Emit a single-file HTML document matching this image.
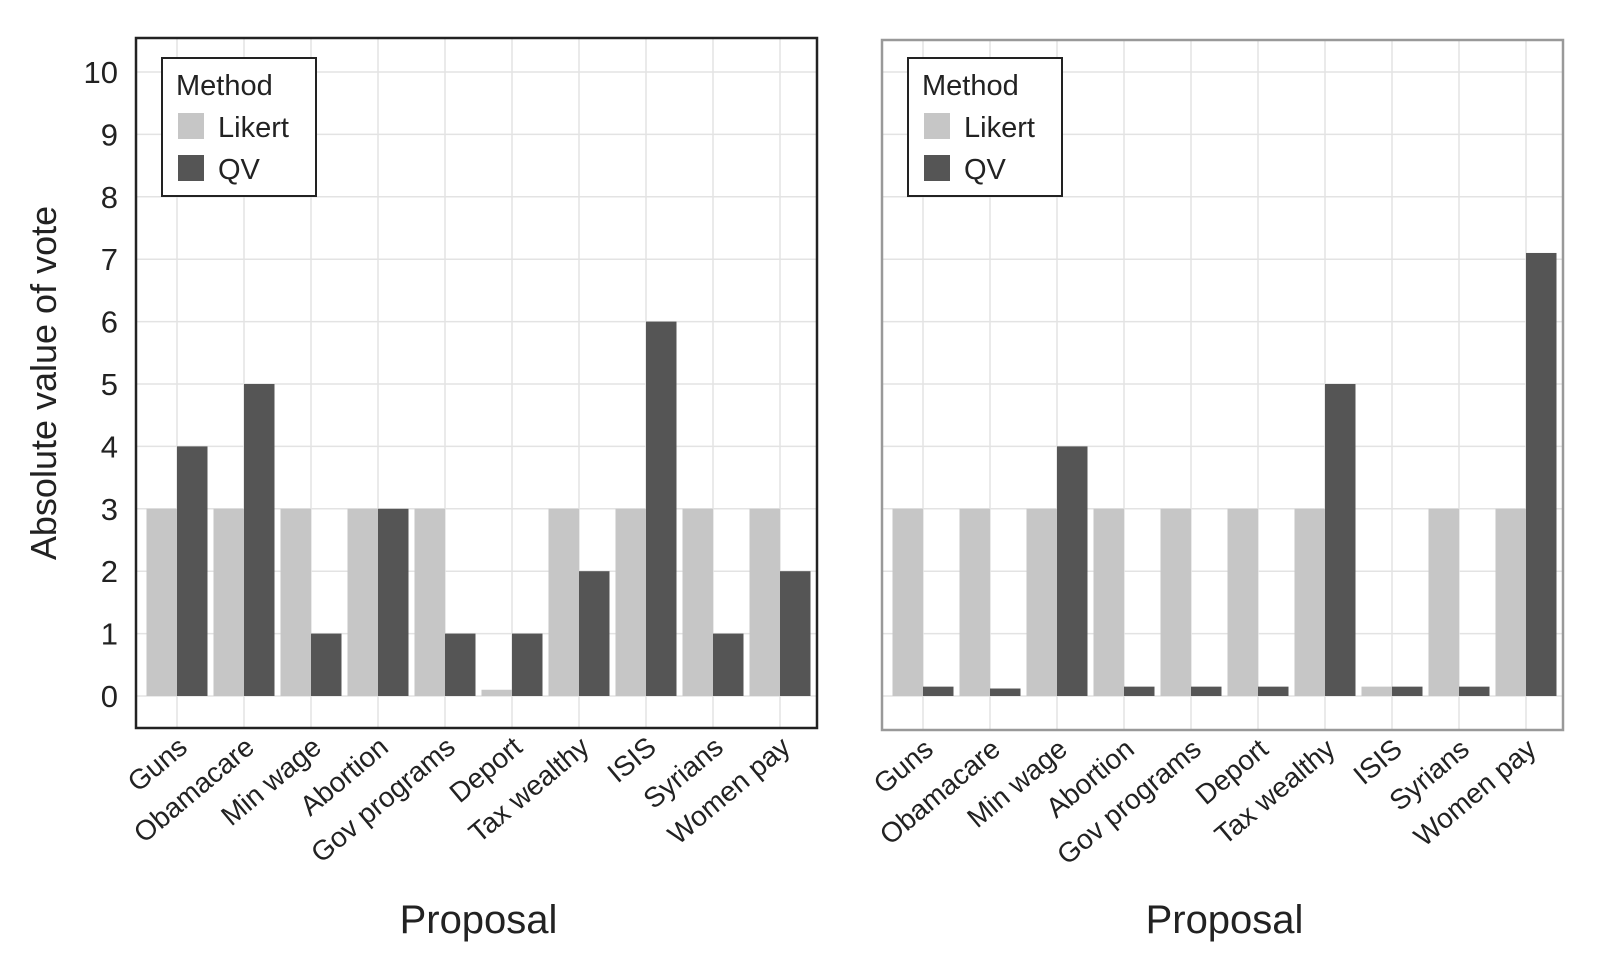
<!DOCTYPE html>
<html><head><meta charset="utf-8"><style>
html,body{margin:0;padding:0;background:#fff}
svg{display:block;font-family:"Liberation Sans",sans-serif}
</style></head><body>
<svg id="chart" width="1614" height="974" viewBox="0 0 1614 974"></svg>
<script>
const categories=["Guns","Obamacare","Min wage","Abortion","Gov programs","Deport","Tax wealthy","ISIS","Syrians","Women pay"];
const leftLikert=[3,3,3,3,3,0.1,3,3,3,3];
const leftQV=[4,5,1,3,1,1,2,6,1,2];
const rightLikert=[3,3,3,3,3,3,3,0.15,3,3];
const rightQV=[0.15,0.12,4,0.15,0.15,0.15,5,0.15,0.15,7.1];
const yTicks=[0,1,2,3,4,5,6,7,8,9,10];

const NS="http://www.w3.org/2000/svg";
const svg=document.getElementById('chart');
function mk(tag,attrs,parent){const e=document.createElementNS(NS,tag);for(const k in attrs)e.setAttribute(k,attrs[k]);(parent||svg).appendChild(e);return e;}
const y0=696,unit=62.4;
function yS(v){return y0-v*unit;}

function panel(px,top,bottom,likert,qv,name,border,showY){
  const g=mk('g',{});
  
  
  const w=681;
  const first=px+41, step=67;
  function xS(i){return first+i*step;}
  yTicks.forEach(t=>{
    const l=mk('line',{x1:px,x2:px+w,y1:yS(t),y2:yS(t),stroke:'#e3e3e3','stroke-width':1.5},g);
    
    
  });
  categories.forEach((c,i)=>{
    const l=mk('line',{x1:xS(i),x2:xS(i),y1:top,y2:bottom,stroke:'#e3e3e3','stroke-width':1.5},g);
    
    
  });
  const bw=30.5;
  categories.forEach((c,i)=>{
    const a=mk('rect',{x:xS(i)-bw,y:yS(likert[i]),width:bw,height:y0-yS(likert[i]),fill:'#c6c6c6'},g);
    
    
    const b=mk('rect',{x:xS(i),y:yS(qv[i]),width:bw,height:y0-yS(qv[i]),fill:'#555555'},g);
    
    
    const t=mk('text',{x:0,y:0,'font-size':28,fill:'#222','text-anchor':'end',transform:`translate(${xS(i)+12},${bottom+22}) rotate(-40)`},g);
    t.textContent=c;
    
    
  });
  const fr=mk('rect',{x:px,y:top,width:w,height:bottom-top,fill:'none',stroke:border,'stroke-width':2.5},g);
  
  
  if(showY){
    yTicks.forEach(t=>{
      const tx=mk('text',{x:118,y:yS(t)+11,'font-size':31,fill:'#222','text-anchor':'end'},g);
      tx.textContent=t;
      
      
    });
  }
  const lg=mk('g',{transform:`translate(${px+26},0)`},g);
  
  
  mk('rect',{x:0,y:58,width:154,height:138,fill:'#fff',stroke:'#222','stroke-width':2},lg);
  const lt=mk('text',{x:14,y:95,'font-size':29,fill:'#222'},lg);lt.textContent='Method';
  
  
  const s1=mk('rect',{x:16,y:113,width:26,height:26,fill:'#c6c6c6'},lg);
  
  
  const t1=mk('text',{x:56,y:137,'font-size':29,fill:'#222'},lg);t1.textContent='Likert';
  
  
  const s2=mk('rect',{x:16,y:155,width:26,height:26,fill:'#555'},lg);
  
  
  const t2=mk('text',{x:56,y:179,'font-size':29,fill:'#222'},lg);t2.textContent='QV';
  
  
  const xt=mk('text',{x:px+w/2+2,y:933,'font-size':40,fill:'#222','text-anchor':'middle'},g);
  xt.textContent='Proposal';
  
  
}
panel(136,38,728,leftLikert,leftQV,'left-panel','#222',true);
panel(882,40,730,rightLikert,rightQV,'right-panel','#999',false);
const yt=mk('text',{x:0,y:0,'font-size':36,fill:'#222','text-anchor':'middle',transform:'translate(56,383) rotate(-90)'});
yt.textContent='Absolute value of vote';


</script>
</body></html>
